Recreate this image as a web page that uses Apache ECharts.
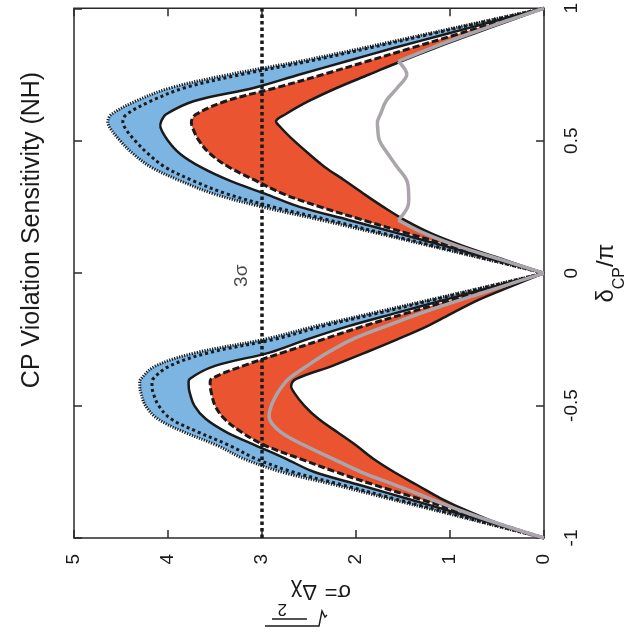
<!DOCTYPE html>
<html>
<head>
<meta charset="utf-8">
<script src="https://cdn.jsdelivr.net/npm/echarts@6/dist/echarts.min.js"></script>
<style>
  html, body { margin: 0; padding: 0; background: #ffffff; }
  #chart { width: 636px; height: 640px; }
</style>
</head>
<body>
<div id="chart"></div>
<script>
// CP phase grid, in units of pi
const deltaGrid = [-1, -0.95, -0.9, -0.85, -0.8, -0.75, -0.7, -0.65, -0.6, -0.55, -0.5, -0.45, -0.425,
  -0.4, -0.35, -0.3, -0.25, -0.2, -0.15, -0.1, -0.05, 0,
  0.05, 0.1, 0.15, 0.2, 0.25, 0.3, 0.35, 0.4, 0.45, 0.5, 0.55, 0.575,
  0.6, 0.65, 0.7, 0.75, 0.8, 0.85, 0.9, 0.95, 1];

// blue band: outer edge (fine dotted), middle (coarse dotted), inner edge (solid)
const blueOuter = [0, 0.56, 1.11, 1.67, 2.22, 2.8, 3.2, 3.48, 3.83, 4.11, 4.24, 4.29, 4.30,
  4.29, 4.13, 3.7, 2.98, 2.43, 1.82, 1.21, 0.6, 0,
  0.59, 1.18, 1.77, 2.37, 3.0, 3.52, 3.88, 4.18, 4.37, 4.51, 4.62, 4.64,
  4.6, 4.34, 3.97, 3.35, 2.6, 1.93, 1.29, 0.65, 0];
const blueMid = [0, 0.54, 1.07, 1.61, 2.14, 2.68, 3.07, 3.35, 3.68, 3.97, 4.1, 4.16, 4.17,
  4.16, 3.98, 3.56, 2.87, 2.35, 1.75, 1.17, 0.58, 0,
  0.57, 1.14, 1.71, 2.28, 2.88, 3.38, 3.74, 4.03, 4.21, 4.35, 4.46, 4.48,
  4.44, 4.18, 3.82, 3.22, 2.5, 1.86, 1.24, 0.62, 0];
const blueInner = [0, 0.49, 0.98, 1.47, 1.96, 2.45, 2.75, 3.07, 3.38, 3.6, 3.72, 3.77, 3.78,
  3.77, 3.5, 2.92, 2.52, 2.08, 1.57, 1.05, 0.52, 0,
  0.52, 1.03, 1.55, 2.07, 2.6, 2.97, 3.35, 3.65, 3.87, 4.0, 4.08, 4.07,
  4.02, 3.72, 3.08, 2.6, 2.1, 1.6, 1.07, 0.54, 0];

// red band: outer edge (dashed) and inner edge (solid)
const redOuter = [0, 0.45, 0.9, 1.35, 1.8, 2.22, 2.6, 2.97, 3.22, 3.4, 3.5, 3.54, 3.55,
  3.54, 3.2, 2.78, 2.35, 1.92, 1.45, 0.97, 0.49, 0,
  0.48, 0.96, 1.45, 1.92, 2.38, 2.78, 3.07, 3.35, 3.55, 3.67, 3.74, 3.75,
  3.7, 3.38, 2.85, 2.35, 1.88, 1.41, 0.94, 0.47, 0];
const redInner = [0, 0.45, 0.8, 1.1, 1.35, 1.6, 1.82, 2.0, 2.2, 2.4, 2.55, 2.66, 2.69,
  2.64, 2.25, 1.9, 1.56, 1.24, 0.97, 0.69, 0.35, 0,
  0.42, 0.84, 1.2, 1.48, 1.71, 1.92, 2.12, 2.33, 2.5, 2.66, 2.8, 2.85,
  2.75, 2.5, 2.2, 1.86, 1.52, 1.16, 0.78, 0.39, 0];

// grey reference curve
const greyCurve = [0, 0.45, 0.86, 1.22, 1.58, 1.95, 2.25, 2.55, 2.8, 2.92, 2.9, 2.83, 2.78,
  2.72, 2.52, 2.3, 2.04, 1.68, 1.3, 0.88, 0.44, 0,
  0.45, 0.9, 1.27, 1.55, 1.45, 1.44, 1.46, 1.56, 1.66, 1.75, 1.77, 1.77,
  1.74, 1.68, 1.56, 1.46, 1.55, 1.2, 0.82, 0.42, 0];

// 3 sigma reference level
const threeSigma = 3;
const threeSigmaLabel = '3σ';
const sigmaRange = [0, 5];
const deltaRange = [-1, 1];

// where curves have corners (drawn as separate smooth pieces)
const humpBreaks = [-1, 0, 1];
const greyBreaks = [-1, 0, 0.2, 0.8, 1];

const FONT = "'Liberation Sans', Arial, Helvetica, sans-serif";
const INK = '#1a1a1a';
const FRAME = '#2a2a2a';
const BLUE = '#7db5e2';
const RED = '#ea5431';
const GREY = '#aaa5ab';
const SMOOTH = 0.35;

// indices of the grid that belong to each piece between consecutive breaks
function pieces(breaks) {
  const out = [];
  for (let b = 0; b < breaks.length - 1; b++) {
    const idx = [];
    deltaGrid.forEach((d, i) => { if (d >= breaks[b] - 1e-9 && d <= breaks[b + 1] + 1e-9) idx.push(i); });
    out.push(idx);
  }
  return out;
}

function band(outer, inner, color) {
  return {
    type: 'custom', coordinateSystem: 'cartesian2d', silent: true, data: [[0, 0]],
    renderItem: function (params, api) {
      const children = pieces(humpBreaks).map(function (idx) {
        const pts = idx.map(i => api.coord([outer[i], deltaGrid[i]]))
          .concat(idx.slice().reverse().map(i => api.coord([inner[i], deltaGrid[i]])));
        return { type: 'polygon', shape: { points: pts, smooth: SMOOTH }, style: { fill: color, stroke: null } };
      });
      return { type: 'group', children: children };
    }
  };
}

function edge(sigmas, breaks, color, width, dash) {
  return {
    type: 'custom', coordinateSystem: 'cartesian2d', silent: true, data: [[0, 0]],
    renderItem: function (params, api) {
      const children = pieces(breaks).map(function (idx) {
        return {
          type: 'polyline',
          shape: { points: idx.map(i => api.coord([sigmas[i], deltaGrid[i]])), smooth: SMOOTH },
          style: { stroke: color, lineWidth: width, lineDash: dash, fill: null, lineCap: 'butt', lineJoin: 'round' }
        };
      });
      return { type: 'group', children: children };
    }
  };
}

// vertical reference line at a fixed sigma, spanning the whole phase range
function levelLine(sigma) {
  return {
    type: 'custom', coordinateSystem: 'cartesian2d', silent: true, data: [[sigma, 0]],
    renderItem: function (params, api) {
      const pts = [api.coord([sigma, deltaRange[0]]), api.coord([sigma, deltaRange[1]])];
      return {
        type: 'polyline',
        shape: { points: pts },
        style: { stroke: INK, lineWidth: 3.5, lineDash: [3.5, 3], lineCap: 'butt', fill: null }
      };
    }
  };
}

function frameAxis(extra) {
  return Object.assign({
    type: 'value',
    axisLine: { show: false, onZero: false },
    axisTick: { show: true, inside: true, length: 8, lineStyle: { color: FRAME, width: 1.5, type: 'solid' } },
    splitLine: { show: false }
  }, extra);
}

const chart = echarts.init(document.getElementById('chart'), null, { renderer: 'canvas' });
chart.setOption({
  animation: false,
  backgroundColor: '#ffffff',
  grid: { left: 74, right: 81, top: 6, bottom: 102, show: true, borderColor: FRAME, borderWidth: 1.5, backgroundColor: 'transparent' },
  xAxis: [
    frameAxis({
      min: sigmaRange[0], max: sigmaRange[1], interval: 1, inverse: true, position: 'bottom',
      axisLabel: { rotate: 90, fontSize: 19, color: INK, fontFamily: FONT, margin: 16 }
    }),
    frameAxis({
      min: sigmaRange[0], max: sigmaRange[1], interval: 1, inverse: true, position: 'top',
      axisLabel: { show: false }
    })
  ],
  yAxis: [
    frameAxis({
      min: deltaRange[0], max: deltaRange[1], interval: 0.5, position: 'right',
      axisLabel: { rotate: 90, fontSize: 19, color: INK, fontFamily: FONT, margin: 18 },
      name: '{d|δ}{s|CP}{d|/π}',
      nameLocation: 'middle',
      nameRotate: 90,
      nameGap: 50,
      nameTextStyle: {
        rich: {
          d: { fontSize: 24, fontFamily: FONT, color: INK, verticalAlign: 'top', lineHeight: 34 },
          s: { fontSize: 16, fontFamily: FONT, color: INK, verticalAlign: 'bottom', lineHeight: 34 }
        }
      }
    }),
    frameAxis({
      min: deltaRange[0], max: deltaRange[1], interval: 0.5, position: 'left',
      axisLabel: { show: false }
    })
  ],
  graphic: [
    {
      type: 'text', x: 32, y: 230, rotation: Math.PI / 2,
      style: {
        text: 'CP Violation Sensitivity (NH)', font: '25px ' + FONT, fill: INK,
        textAlign: 'center', textVerticalAlign: 'middle'
      }
    },
    {
      // y-axis title of the unrotated plot, shown upside down
      type: 'group', x: 318, y: 591, rotation: Math.PI,
      children: [
        { type: 'text', style: { text: 'σ=', x: -33, y: 0, font: '22px ' + FONT, fill: INK, textAlign: 'left', textVerticalAlign: 'middle' } },
        { type: 'text', style: { text: 'Δχ', x: 1, y: 0, font: '22px ' + FONT, fill: INK, textAlign: 'left', textVerticalAlign: 'middle' } },
        { type: 'text', style: { text: '2', x: 31, y: -18, font: '17px ' + FONT, fill: INK, textAlign: 'left', textVerticalAlign: 'middle' } },
        { type: 'line', shape: { x1: 11, y1: -28, x2: 46, y2: -28 }, style: { stroke: INK, lineWidth: 1.4 } },
        { type: 'polyline', shape: { points: [[-9, -24], [-7, -26], [-4, -20], [-1, -35], [53, -35]] }, style: { stroke: INK, lineWidth: 1.4, fill: null } }
      ]
    }
  ],
  series: [
    band(blueOuter, blueInner, BLUE),
    band(redOuter, redInner, RED),
    edge(blueOuter, humpBreaks, INK, 3, [1.2, 1.4]),
    edge(blueMid, humpBreaks, INK, 3, [3, 3]),
    edge(blueInner, humpBreaks, INK, 2.5, null),
    edge(redOuter, humpBreaks, INK, 3, [7, 3]),
    edge(redInner, humpBreaks, INK, 2.5, null),
    levelLine(threeSigma),
    edge(greyCurve, greyBreaks, GREY, 3.5, null),
    {
      type: 'scatter',
      data: [[3.21, -0.01]],
      symbolSize: 0,
      silent: true,
      label: {
        show: true, position: 'inside', rotate: 90, formatter: threeSigmaLabel,
        fontSize: 19, color: INK, fontFamily: FONT
      }
    }
  ]
});
</script>
</body>
</html>
